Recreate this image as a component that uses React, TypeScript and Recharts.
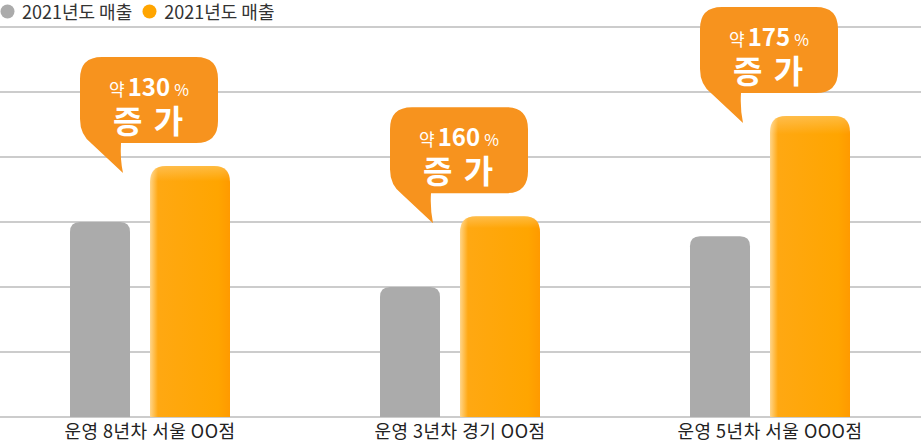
import React from 'react';
import { BarChart, Bar, XAxis, YAxis, CartesianGrid, LabelList } from 'recharts';

const categories = ['운영 8년차 서울 OO점', '운영 3년차 경기 OO점', '운영 5년차 서울 OOO점'];
const sales2021a = [3.0, 2.0, 2.78];
const sales2021b = [3.86, 3.09, 4.63];
const increasePct = ['130', '160', '175'];
const seriesNames = ['2021년도 매출', '2021년도 매출'];
const yTicks = [0, 1, 2, 3, 4, 5, 6];

const GRAY = '#ABABAB';
const ORANGE = '#FFA500';
const BUBBLE = '#F7931E';
const FONT = '"Noto Sans CJK KR", "Noto Sans", sans-serif';
const seriesColors = [GRAY, ORANGE];

const data = categories.map((c, i) => ({
  name: c,
  a: sales2021a[i],
  b: sales2021b[i],
  pct: increasePct[i],
}));

function HtmlLegend() {
  return (
    <div style={{ position: 'absolute', left: 0, top: 1, display: 'flex', alignItems: 'center', height: 20, fontFamily: FONT, fontSize: 18, lineHeight: '20px', color: '#333', whiteSpace: 'nowrap' }}>
      {seriesNames.map((n, i) => (
        <div key={i} style={{ display: 'flex', alignItems: 'center', marginRight: 10 }}>
          <svg width={15} height={15} style={{ marginRight: 7, display: 'block' }}>
            <circle cx={7.5} cy={7.5} r={7} fill={seriesColors[i]} />
          </svg>
          <span>{n}</span>
        </div>
      ))}
    </div>
  );
}

function OrangeBar(props: any) {
  const { x, y, width, height } = props;
  if (!height || height <= 0) return null;
  const r = 16;
  const d = `M${x},${y + height} V${y + r} Q${x},${y} ${x + r},${y} H${x + width - r} Q${x + width},${y} ${x + width},${y + r} V${y + height} Z`;
  return (
    <g>
      <path d={d} fill="url(#orangeH)" />
      <path d={d} fill="url(#orangeV)" />
    </g>
  );
}

function GrayBar(props: any) {
  const { x, y, width, height } = props;
  if (!height || height <= 0) return null;
  const r = 10;
  const d = `M${x},${y + height} V${y + r} Q${x},${y} ${x + r},${y} H${x + width - r} Q${x + width},${y} ${x + width},${y + r} V${y + height} Z`;
  return <path d={d} fill={GRAY} />;
}

function Bubble(props: any) {
  const { x, y, value } = props;
  const cx = x - 1;
  const L = cx - 69;
  const R = cx + 69;
  const T = y - 109;
  const B = y - 23;
  const r = 22;
  const tipX = x - 27;
  const tipY = y + 7;
  const d = [
    `M${L + r},${T}`,
    `H${R - r}`,
    `Q${R},${T} ${R},${T + r}`,
    `V${B - r}`,
    `Q${R},${B} ${R - r},${B}`,
    `H${tipX - 2}`,
    `Q${tipX - 3},${B + 16} ${tipX},${tipY}`,
    `L${L + 12},${B + 1}`,
    `Q${L},${B - 8} ${L},${B - 24}`,
    `V${T + r}`,
    `Q${L},${T} ${L + r},${T}`,
    'Z',
  ].join(' ');
  return (
    <g>
      <path d={d} fill={BUBBLE} />
      <text x={cx} y={T + 39} textAnchor="middle" fill="#fff" fontFamily={FONT}>
        <tspan fontSize={17} fontWeight={400}>약</tspan>
        <tspan fontSize={24} fontWeight={700} dx={3}>{value}</tspan>
        <tspan fontSize={16} fontWeight={400} dx={4}>%</tspan>
      </text>
      <text x={cx} y={T + 76} textAnchor="middle" fill="#fff" fontFamily={FONT} fontSize={32} fontWeight={700} letterSpacing={2}>
        증 가
      </text>
    </g>
  );
}

function XTick(props: any) {
  const { x, y, payload } = props;
  return (
    <text x={x} y={y + 13} textAnchor="middle" fill="#222" fontFamily={FONT} fontSize={18} letterSpacing={0.5}>
      {payload.value}
    </text>
  );
}

export default function App() {
  return (
    <div style={{ position: 'absolute', left: 0, top: 0, width: 921, height: 443, overflow: 'hidden', background: '#fff' }}>
      <div style={{ position: 'absolute', left: -5, top: 0, width: 930, height: 443 }}>
        <BarChart width={930} height={443} data={data} margin={{ top: 27, right: 0, bottom: 0, left: 0 }} barGap={20}>
          <defs>
            <linearGradient id="orangeH" x1="0" y1="0" x2="1" y2="0">
              <stop offset="0" stopColor="#FFD58A" />
              <stop offset="0.1" stopColor="#FFA812" />
              <stop offset="0.85" stopColor="#FFA500" />
              <stop offset="1" stopColor="#FF9A00" />
            </linearGradient>
            <linearGradient id="orangeV" x1="0" y1="0" x2="0" y2="1">
              <stop offset="0" stopColor="#FFFFFF" stopOpacity={0.25} />
              <stop offset="0.06" stopColor="#FFFFFF" stopOpacity={0} />
              <stop offset="1" stopColor="#FFFFFF" stopOpacity={0} />
            </linearGradient>
          </defs>
          <CartesianGrid vertical={false} stroke="#CCCCCC" strokeWidth={2} />
          <XAxis dataKey="name" axisLine={false} tickLine={false} tick={<XTick />} interval={0} height={26} />
          <YAxis hide domain={[0, 6]} ticks={yTicks} />
          <Bar dataKey="a" name={seriesNames[0]} barSize={60} shape={<GrayBar />} fill={GRAY} isAnimationActive={false} />
          <Bar dataKey="b" name={seriesNames[1]} barSize={80} shape={<OrangeBar />} fill={ORANGE} isAnimationActive={false}>
            <LabelList dataKey="pct" content={<Bubble />} />
          </Bar>
        </BarChart>
      </div>
      <HtmlLegend />
    </div>
  );
}
